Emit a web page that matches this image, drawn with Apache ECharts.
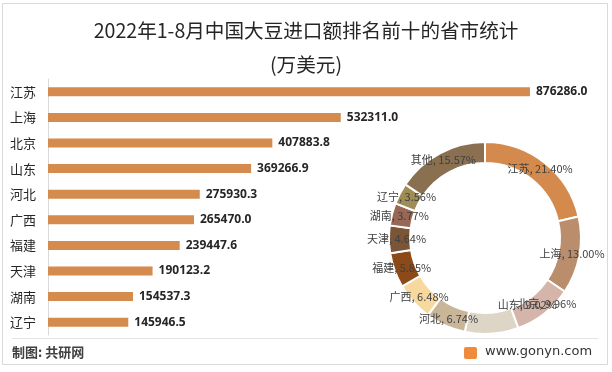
<!DOCTYPE html>
<html>
<head>
<meta charset="utf-8">
<script src="https://cdn.jsdelivr.net/npm/echarts@6/dist/echarts.min.js"></script>
<style>html,body{margin:0;padding:0;background:#fff}#c{width:612px;height:372px}</style>
</head>
<body>
<div id="c"></div>
<script>
const categories = ['江苏','上海','北京','山东','河北','广西','福建','天津','湖南','辽宁'];
const barValues = [876286.0, 532311.0, 407883.8, 369266.9, 275930.3, 265470.0, 239447.6, 190123.2, 154537.3, 145946.5];
const pieNames = ['江苏','上海','北京','山东','河北','广西','福建','天津','湖南','辽宁','其他'];
const pieShares = [21.40, 13.00, 9.96, 9.02, 6.74, 6.48, 5.85, 4.64, 3.77, 3.56, 15.57];
const pieColors = ['#D48A4C','#BA8E6C','#D5B5AA','#DDD6C6','#C9B597','#F7D9A0','#8B4A17','#7B5537','#9A6655','#A08C56','#8A7050'];

const CJK = '"Noto Sans CJK SC", "Noto Sans", sans-serif';
const labelShift = {'北京':[7,-4], '山东':[36,-21]};
const chart = echarts.init(document.getElementById('c'), null, {renderer:'canvas'});
chart.setOption({
  backgroundColor:'#fff',
  animation:false,
  title:[
    {text:'2022年1-8月中国大豆进口额排名前十的省市统计', left:'center', top:16,
     textStyle:{fontFamily:CJK, fontSize:19.6, fontWeight:'normal', color:'#262626'}},
    {text:'(万美元)', left:'center', top:50,
     textStyle:{fontFamily:CJK, fontSize:19.6, fontWeight:'normal', color:'#262626'}}
  ],
  grid:{left:48, top:79, width:550, height:256, containLabel:false},
  xAxis:{type:'value', min:0, max:1000000, show:false},
  yAxis:{type:'category', data:categories, inverse:true,
    axisLine:{show:true, lineStyle:{color:'#D9D9D9', width:1}},
    axisTick:{show:false},
    axisLabel:{fontFamily:CJK, fontSize:13, color:'#262626', margin:12}},
  series:[
    {type:'bar', data:barValues, barWidth:9, itemStyle:{color:'#D48B4D'},
     label:{show:true, position:'right', distance:6, fontFamily:'"Open Sans", "DejaVu Sans", sans-serif',
       fontSize:12, fontWeight:'bold', color:'#262626',
       formatter:p=>p.value.toFixed(1)}},
    {type:'pie', center:[485,238], radius:[75,96], startAngle:90, clockwise:true,
     data:pieNames.map((n,i)=>({name:n, value:pieShares[i], itemStyle:{color:pieColors[i]},
       label: labelShift[n] ? {offset:labelShift[n]} : undefined})),
     itemStyle:{borderColor:'#fff', borderWidth:2},
     label:{show:true, position:'inside', fontFamily:CJK, fontSize:11, color:'#404040',
       formatter:p=>p.name+', '+p.value.toFixed(2)+'%'},
     labelLayout:{hideOverlap:false},
     labelLine:{show:false}, emphasis:{disabled:true}}
  ],
  graphic:[
    {type:'rect', shape:{x:2.5,y:3.5,width:605,height:361}, style:{fill:null, stroke:'#D9D9D9', lineWidth:1}, silent:true},
    {type:'line', shape:{x1:12,y1:338.5,x2:598,y2:338.5}, style:{stroke:'#E3E3E3', lineWidth:1}, silent:true},
    {type:'text', left:12, top:346, style:{text:'制图: 共研网', font:'bold 13px "Noto Sans CJK SC", sans-serif', fill:'#404040'}},
    {type:'rect', shape:{x:464,y:347,width:13,height:12,r:2}, style:{fill:'#F08A3C'}},
    {type:'text', left:485, top:345, style:{text:'www.gonyn.com', font:'13px "DejaVu Sans", sans-serif', fill:'#333'}}
  ]
});
</script>
</body>
</html>
